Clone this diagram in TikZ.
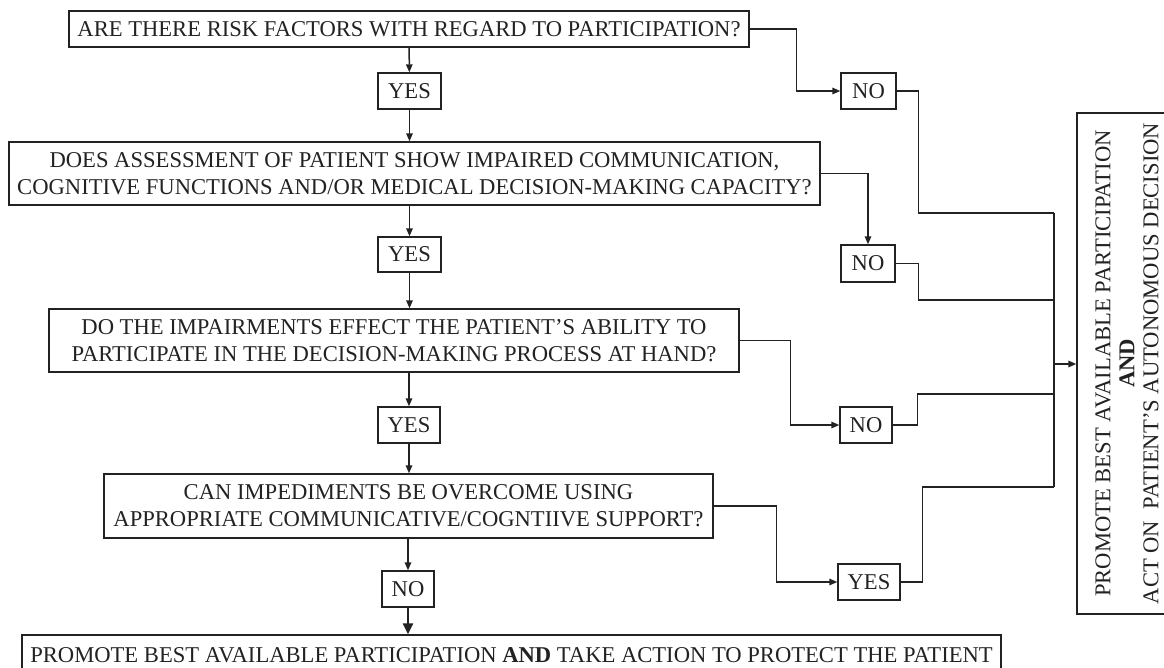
\documentclass[tikz,border=0pt]{standalone}
\usepackage{fontspec}
\setmainfont{Liberation Serif}
\usetikzlibrary{arrows.meta}
\definecolor{ink}{HTML}{222222}
\begin{document}
\begin{tikzpicture}[x=1pt,y=-1pt,
  box/.style={draw=ink, text=ink, line width=1.4pt, inner sep=0pt, align=center,
              font=\fontsize{22.6}{27}\selectfont},
  link/.style={draw=ink, line width=1.5pt},
  arr/.style={link, -{Triangle[length=8pt,width=6.5pt]}},
  bigarr/.style={draw=ink, line width=2.8pt, -{Triangle[length=11pt,width=10pt]}}]
\useasboundingbox (0,0) rectangle (1164,667);

% questions down the left
\node[box, minimum width=680pt, minimum height=36pt] (q1) at (409,29)
  {ARE THERE RISK FACTORS WITH REGARD TO PARTICIPATION?};
\node[box, minimum width=63pt, minimum height=36pt] (y1) at (409.5,91) {YES};
\node[box, minimum width=811pt, minimum height=63pt] (q2) at (414.5,173.5)
  {DOES ASSESSMENT OF PATIENT SHOW IMPAIRED COMMUNICATION,\\
   COGNITIVE FUNCTIONS AND/OR MEDICAL DECISION-MAKING CAPACITY?};
\node[box, minimum width=63pt, minimum height=35pt] (y2) at (409.5,254.5) {YES};
\node[box, minimum width=690pt, minimum height=63pt] (q3) at (394,340.5)
  {DO THE IMPAIRMENTS EFFECT THE PATIENT'S ABILITY TO\\
   PARTICIPATE IN THE DECISION-MAKING PROCESS AT HAND?};
\node[box, minimum width=62pt, minimum height=36pt] (y3) at (409,425) {YES};
\node[box, minimum width=609pt, minimum height=64pt] (q4) at (408.5,506)
  {CAN IMPEDIMENTS BE OVERCOME USING\\
   APPROPRIATE COMMUNICATIVE/COGNTIIVE SUPPORT?};
\node[box, minimum width=52pt, minimum height=36pt] (n4) at (408,589) {NO};
\node[box, minimum width=979pt, minimum height=40pt] (fin) at (511.5,655)
  {PROMOTE BEST AVAILABLE PARTICIPATION \textbf{AND} TAKE ACTION TO PROTECT THE PATIENT};

% answers on the right
\node[box, minimum width=55pt, minimum height=36pt] (n1) at (868.5,91) {NO};
\node[box, minimum width=54pt, minimum height=37pt] (n2) at (868,263.5) {NO};
\node[box, minimum width=52pt, minimum height=36pt] (n3) at (866,425) {NO};
\node[box, minimum width=62pt, minimum height=36pt] (y4) at (869,582) {YES};

% outcome box
\node[box, rotate=90, minimum width=501pt, minimum height=100pt,
      font=\fontsize{22.6}{24}\selectfont] (res) at (1127,363.5)
  {PROMOTE BEST AVAILABLE PARTICIPATION\\ \textbf{AND}\\ ACT ON\ \ PATIENT'S AUTONOMOUS DECISION};

% collecting line
\coordinate (jtop) at (1054,213);
\coordinate (j2) at (1054,300);
\coordinate (jmid) at (1054,364);
\coordinate (j3) at (1054,394);
\coordinate (jbot) at (1054,487);

% main chain
\draw[arr] (q1) -- (y1);
\draw[arr] (y1) -- (q2.north -| y1);
\draw[arr] (q2.south -| y2) -- (y2);
\draw[arr] (y2) -- (q3.north -| y2);
\draw[arr] (q3.south -| y3) -- (y3);
\draw[arr] (y3) -- (q4.north -| y3);
\draw[arr] (q4.south -| n4) -- (n4);
\draw[bigarr] (n4) -- (fin.north -| n4);

% branches to the right
\draw[arr] (q1.east) -- ++(47,0) |- (n1.west);
\draw[arr] (q2.east) -| (n2.north);
\draw[arr] (q3.east) -- ++(51,0) |- (n3.west);
\draw[arr] (q4.east) -- ++(63,0) |- (y4.west);

\draw[link] (n1.east) -- ++(22,0) |- (jtop);
\draw[link] (n2.east) -- ++(23,0) |- (j2);
\draw[link] (n3.east) -- ++(25,0) |- (j3);
\draw[link] (y4.east) -- ++(22,0) |- (jbot);
\draw[link] (jtop) -- (jbot);
\draw[arr] (jmid) -- (jmid -| res.north);
\end{tikzpicture}
\end{document}
